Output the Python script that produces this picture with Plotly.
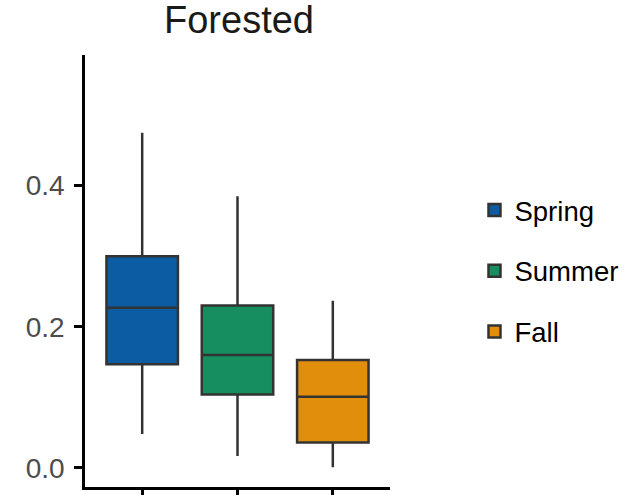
import plotly.graph_objects as go

seasons = ["Spring", "Summer", "Fall"]
colors = ["#0B5CA2", "#168E5F", "#E08E0B"]
lower_whisker = [0.048, 0.017, 0.001]
q1 = [0.147, 0.104, 0.036]
median = [0.227, 0.160, 0.101]
q3 = [0.300, 0.230, 0.153]
upper_whisker = [0.475, 0.385, 0.237]

y_ticks = [0.0, 0.2, 0.4]
y_tick_labels = ["0.0", "0.2", "0.4"]

fig = go.Figure()
for i, s in enumerate(seasons):
    fig.add_trace(go.Box(
        x=[s], name=s, legendgroup=s,
        q1=[q1[i]], median=[median[i]], q3=[q3[i]],
        lowerfence=[lower_whisker[i]], upperfence=[upper_whisker[i]],
        fillcolor=colors[i],
        line=dict(color="#333333", width=2.5),
        whiskerwidth=0, width=0.75, boxpoints=False,
        hoverinfo="skip",
    ))

fig.update_layout(
    width=631, height=495,
    margin=dict(l=85, r=238, t=55, b=8),
    paper_bgcolor="white", plot_bgcolor="white",
    font=dict(family="Liberation Sans, Arial, sans-serif", color="#000000"),
    title=dict(text="Forested", x=(85 + 393) / 2 / 631, xanchor="center",
               y=1 - 20 / 495, yanchor="middle", yref="container",
               font=dict(size=38, color="#1a1a1a")),
    showlegend=True,
    legend=dict(x=1.277, xanchor="left", y=0.5, yanchor="middle",
                font=dict(size=27.5, color="#000000"),
                tracegroupgap=22, bgcolor="rgba(0,0,0,0)"),
    xaxis=dict(type="category", categoryorder="array", categoryarray=seasons,
               range=[-0.6, 2.6], showgrid=False, zeroline=False,
               showline=True, linecolor="#000000", linewidth=2.5,
               ticks="outside", ticklen=8, tickwidth=2.5, tickcolor="#000000",
               showticklabels=False, automargin=False),
    yaxis=dict(range=[-0.027, 0.585], tickvals=y_ticks, ticktext=y_tick_labels,
               showgrid=False, zeroline=False, automargin=False,
               showline=True, linecolor="#000000", linewidth=2.5,
               ticks="outside", ticklen=8, tickwidth=2.5, tickcolor="#000000",
               ticklabelstandoff=4,
               tickfont=dict(size=28, color="#4D4D4D")),
)

fig.write_html("out.html", config={"displayModeBar": False},
               post_script="document.body.style.margin='0px';")
